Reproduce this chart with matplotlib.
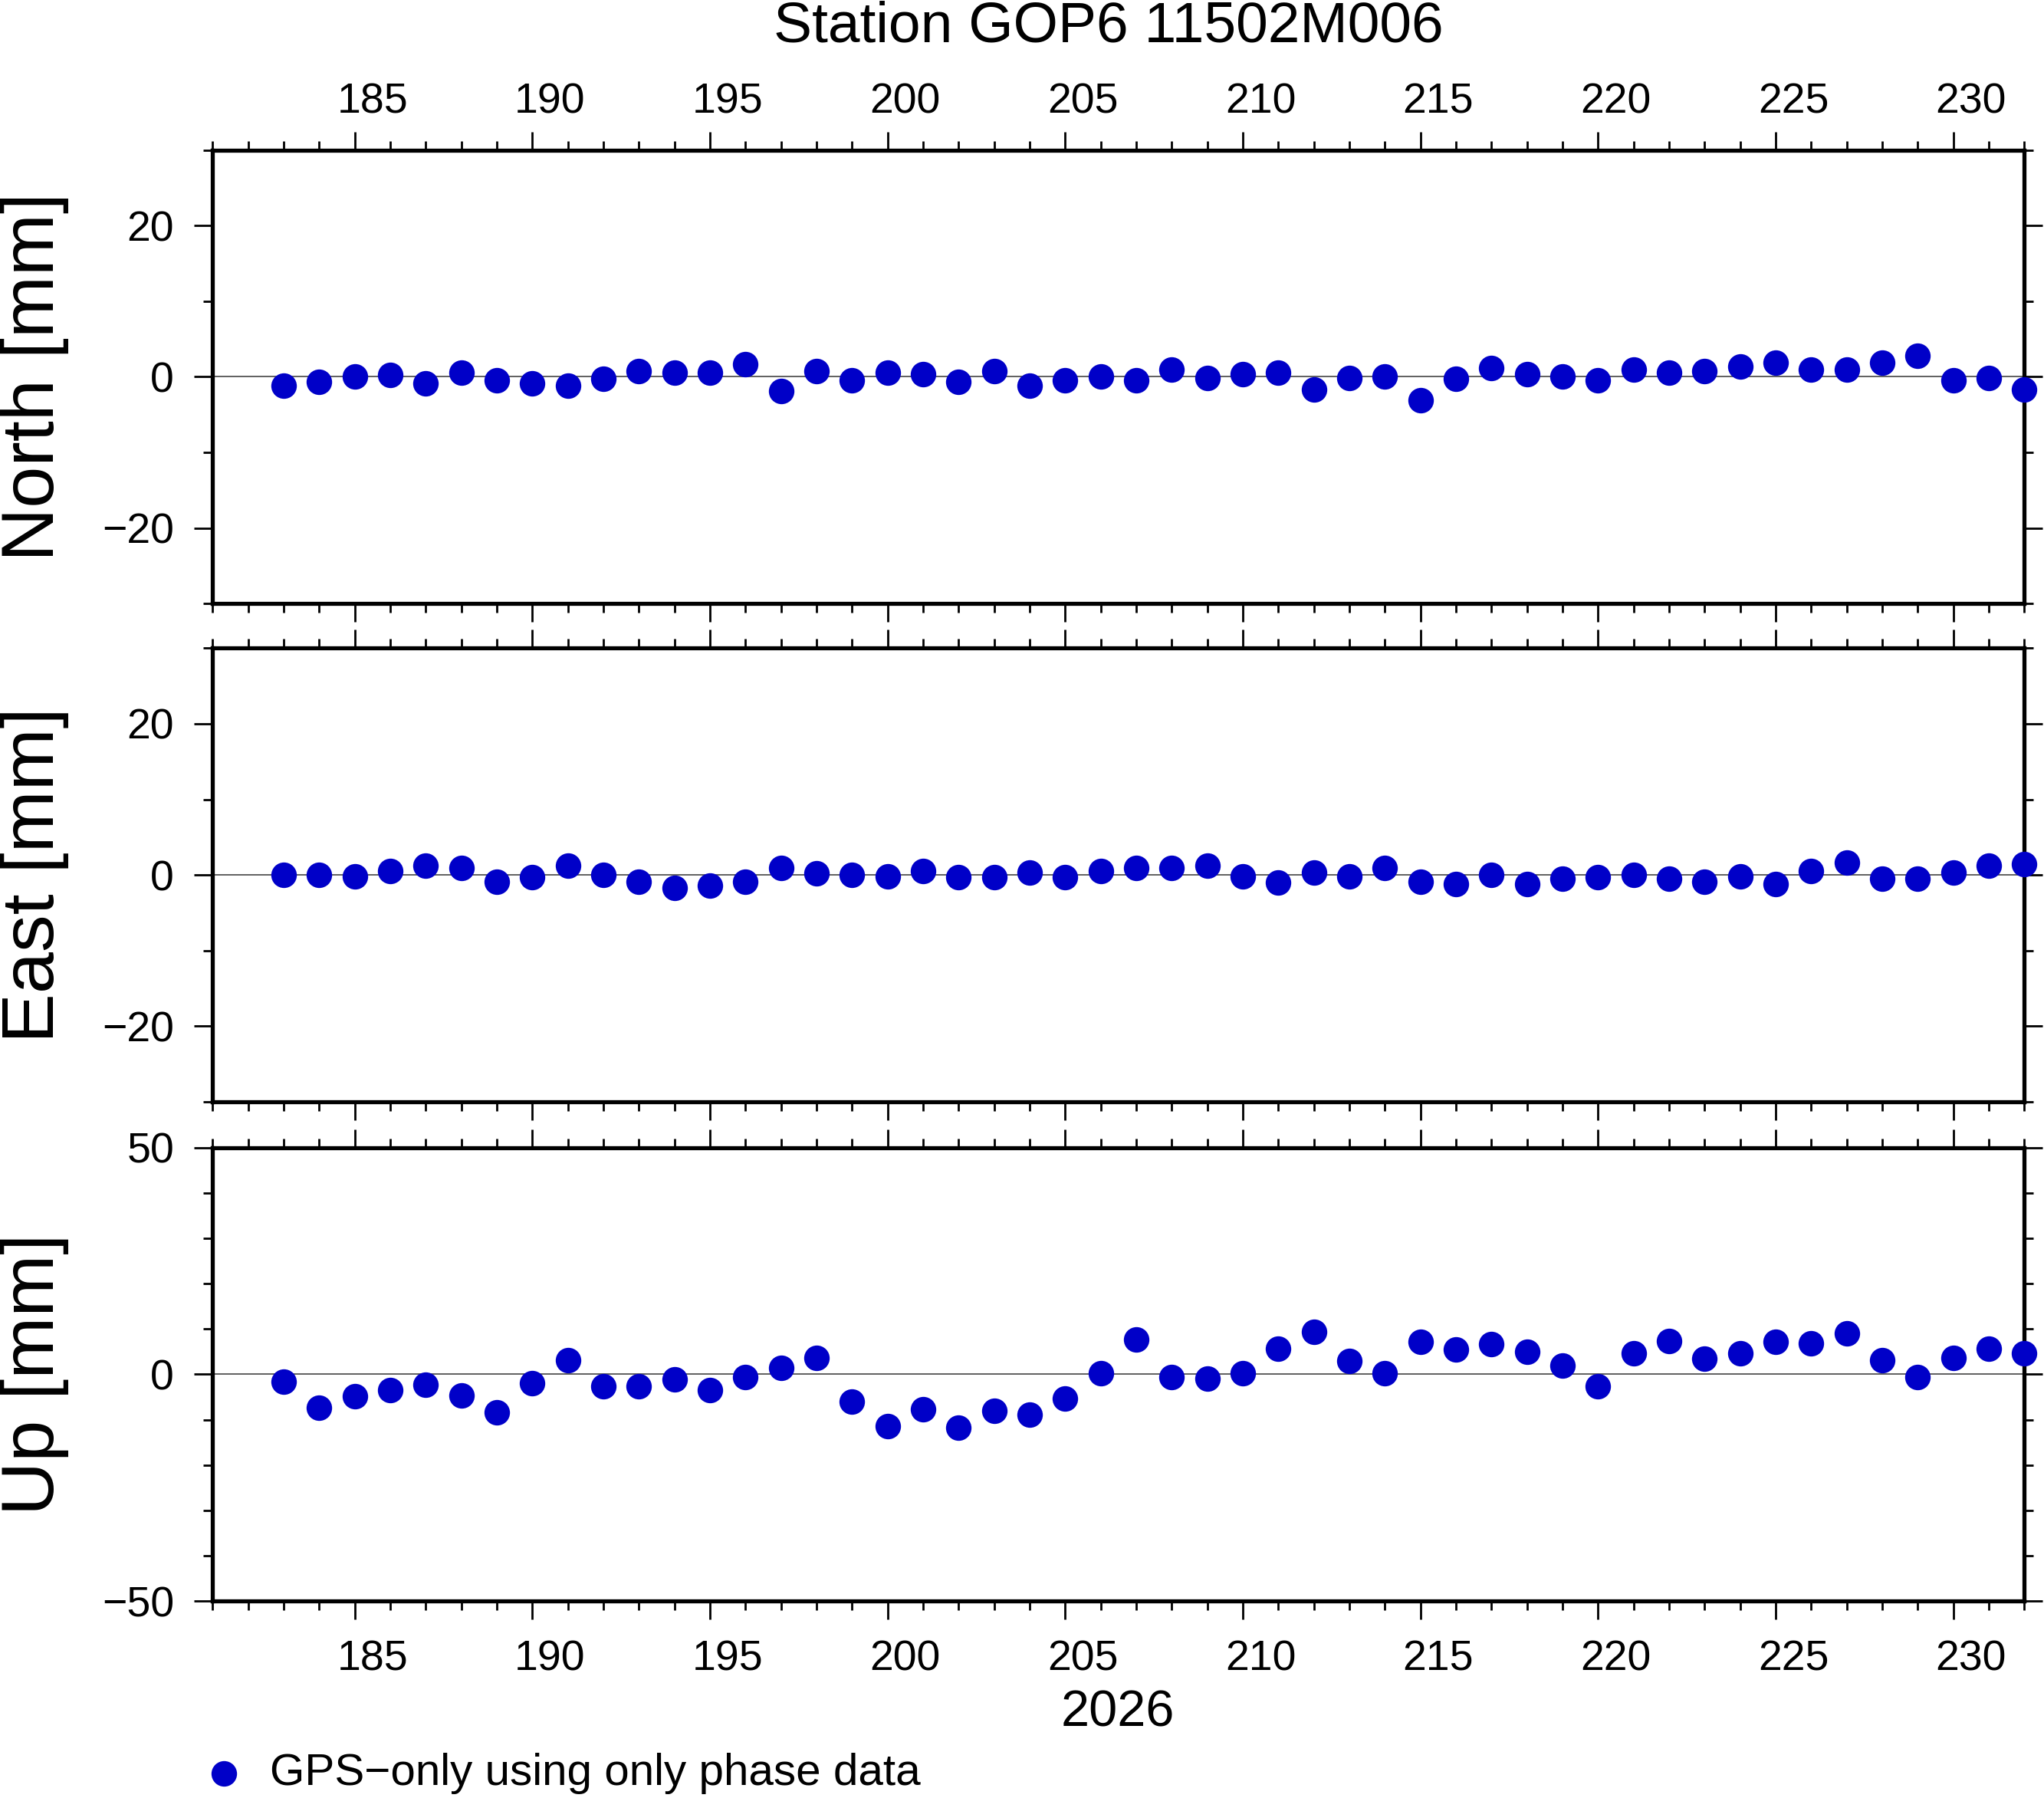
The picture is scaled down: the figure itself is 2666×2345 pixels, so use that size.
import matplotlib
matplotlib.use("Agg")
import matplotlib.pyplot as plt
from matplotlib.ticker import MultipleLocator, NullFormatter
from matplotlib.transforms import ScaledTranslation

plt.rcParams['font.family'] = ['Liberation Sans', 'DejaVu Sans']

days = list(range(183, 233))

north = [-1.2, -0.7, 0.0, 0.2, -0.9, 0.5, -0.5, -0.9, -1.2, -0.3,
         0.7, 0.5, 0.5, 1.7, -1.9, 0.7, -0.5, 0.5, 0.3, -0.7,
         0.7, -1.2, -0.5, 0.0, -0.5, 1.0, -0.2, 0.3, 0.5, -1.7,
         -0.2, 0.0, -3.1, -0.3, 1.2, 0.3, 0.0, -0.5, 1.0, 0.5,
         0.7, 1.4, 1.9, 1.0, 1.0, 1.9, 2.8, -0.5, -0.2, -1.7]

east = [0.0, 0.0, -0.2, 0.5, 1.2, 0.9, -0.9, -0.3, 1.2, 0.0,
        -0.9, -1.7, -1.4, -0.9, 0.9, 0.2, 0.0, -0.2, 0.5, -0.3,
        -0.3, 0.3, -0.3, 0.5, 0.9, 0.9, 1.2, -0.2, -1.0, 0.3,
        -0.2, 0.9, -0.9, -1.2, 0.0, -1.2, -0.5, -0.3, 0.0, -0.5,
        -0.9, -0.2, -1.2, 0.5, 1.6, -0.5, -0.5, 0.3, 1.2, 1.4]

up = [-1.7, -7.4, -4.9, -3.4, -2.3, -4.6, -8.3, -2.0, 3.1, -2.6,
      -2.6, -1.1, -3.4, -0.6, 1.4, 3.7, -6.0, -11.4, -7.7, -11.7,
      -8.0, -8.9, -5.4, 0.3, 7.7, -0.6, -0.9, 0.3, 5.7, 9.4,
      2.9, 0.3, 7.1, 5.4, 6.6, 4.9, 2.0, -2.6, 4.6, 7.4,
      3.4, 4.6, 7.1, 6.9, 9.1, 3.1, -0.6, 3.7, 5.7, 4.6]

components = ["North [mm]", "East [mm]", "Up [mm]"]
ylims = [(-30, 30), (-30, 30), (-50, 50)]
ymajor = [20, 20, 50]
series = [north, east, up]

title = "Station GOP6 11502M006"
year_label = "2026"
legend_label = "GPS\u2212only using only phase data"
dot_color = '#0000c8'

fig = plt.figure(figsize=(13.33, 11.725), dpi=200)

left, width = 0.104, 0.8864
bottoms = [0.6643, 0.3872, 0.1095]
height = 0.2523

# labels sit in the middle of each day interval (GMT style)
half_day = ScaledTranslation(width * 13.33 / 51 / 2, 0, fig.dpi_scale_trans)

axes = []
for i in range(3):
    ax = fig.add_axes([left, bottoms[i], width, height])
    ax.plot(days, series[i], 'o', color=dot_color, markersize=12,
            markeredgewidth=0, clip_on=False, zorder=3)
    ax.axhline(0, color='#444444', lw=0.6, zorder=1)
    ax.set_xlim(181, 232)
    ax.set_ylim(*ylims[i])

    ax.xaxis.set_major_locator(MultipleLocator(5))
    ax.xaxis.set_minor_locator(MultipleLocator(1))
    ax.yaxis.set_major_locator(MultipleLocator(ymajor[i]))
    ax.yaxis.set_minor_locator(MultipleLocator(10))
    ax.tick_params(which='both', direction='out', top=True, right=True,
                   width=1.0, labelsize=20)
    ax.tick_params(which='major', length=8.6)
    ax.tick_params(which='minor', length=4.3)
    ax.tick_params(axis='y', labelright=False, pad=9.5)
    ax.yaxis.set_minor_formatter(NullFormatter())
    ax.set_yticklabels([f"{int(v)}".replace('-', '\u2212') for v in ax.get_yticks()])

    if i == 0:
        ax.tick_params(axis='x', labeltop=True, labelbottom=False, pad=4.5)
    elif i == 2:
        ax.tick_params(axis='x', labeltop=False, labelbottom=True, pad=9.5)
    else:
        ax.tick_params(axis='x', labeltop=False, labelbottom=False)

    for lab in ax.get_xticklabels():
        lab.set_transform(lab.get_transform() + half_day)

    for sp in ax.spines.values():
        sp.set_linewidth(1.9)

    fig.text(0.017, bottoms[i] + height / 2, components[i], rotation=90,
             fontsize=35, ha='center', va='center')
    axes.append(ax)

fig.text(left + width / 2 - 0.005, 0.985, title, fontsize=27, ha='center', va='center')
fig.text(0.547, 0.047, year_label, fontsize=24, ha='center', va='center')

fig.lines.append(plt.Line2D([0.1097], [0.0138], marker='o', color=dot_color,
                            markersize=12, markeredgewidth=0, linestyle='none',
                            transform=fig.transFigure, figure=fig))
fig.text(0.132, 0.0138, legend_label, fontsize=21, ha='left', va='center')

fig.savefig("out.png", dpi=200)
